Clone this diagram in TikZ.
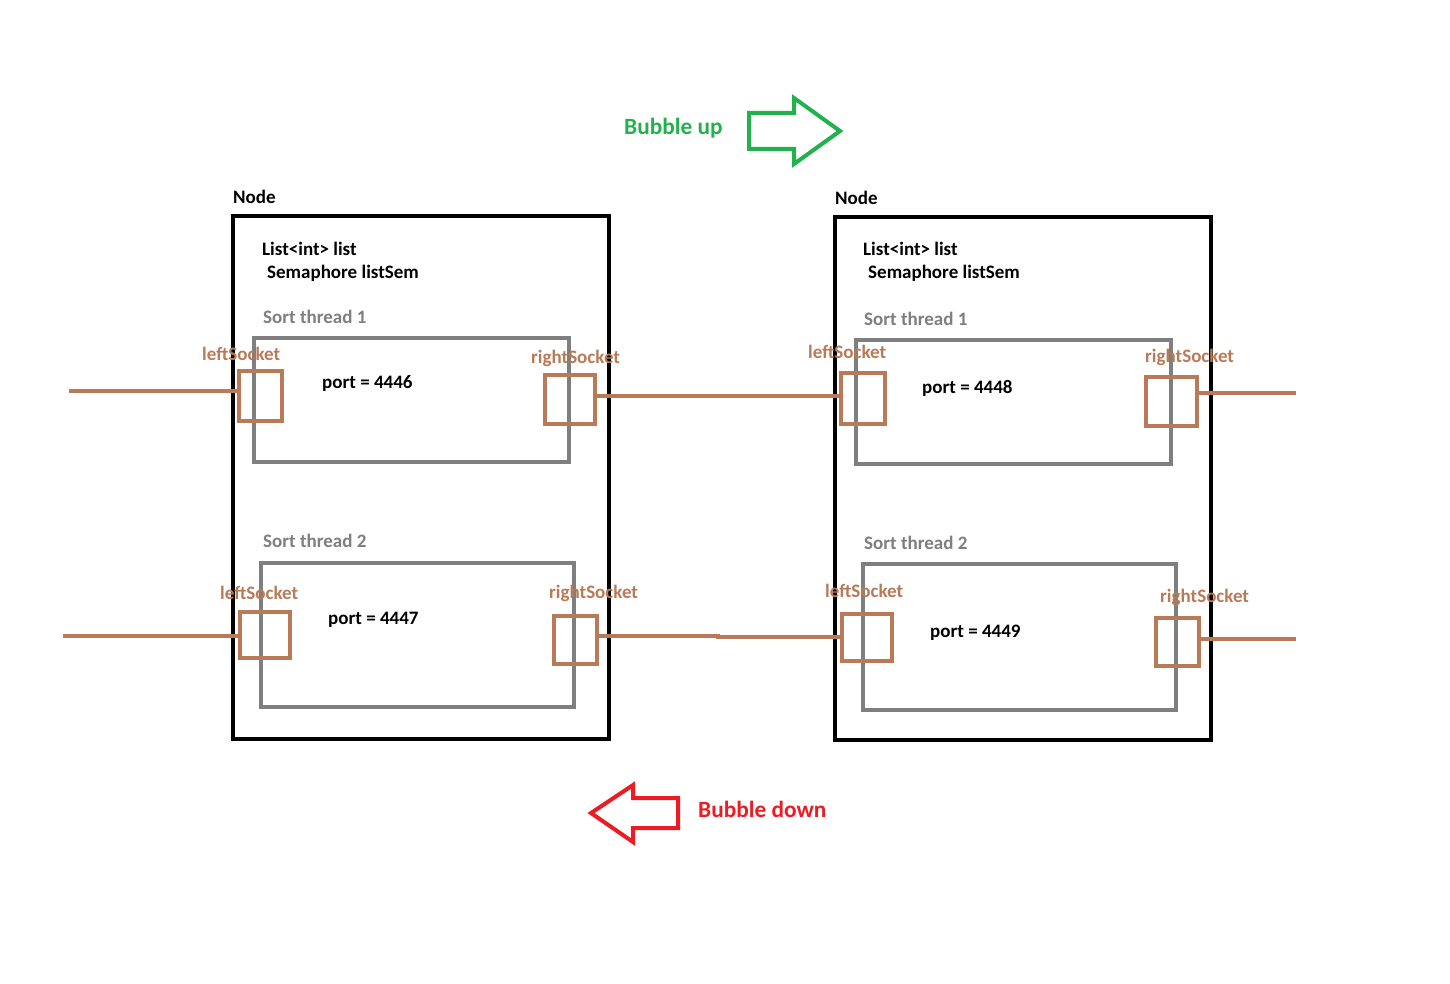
\documentclass[tikz,border=0pt]{standalone}
\usepackage{fontspec}
\setmainfont{Carlito}
\definecolor{thgray}{HTML}{7F7F7F}
\definecolor{sockbrown}{HTML}{B97A57}
\definecolor{upgreen}{HTML}{22B14C}
\definecolor{downred}{HTML}{ED1C24}
\begin{document}
\begin{tikzpicture}[x=1pt,y=-1pt,
  txt/.style={anchor=base west, inner sep=0pt, font=\fontsize{19}{22}\selectfont\bfseries},
  bigtxt/.style={anchor=base west, inner sep=0pt, font=\fontsize{23.3}{26}\selectfont\bfseries},
  lbl/.style={txt, text=black},
  graytxt/.style={txt, text=thgray},
  socktxt/.style={txt, text=sockbrown},
  nodebox/.style={draw=black, line width=4.5pt},
  threadbox/.style={draw=thgray, line width=4.5pt},
  sock/.style={draw=sockbrown, line width=4.5pt, inner sep=0pt},
  wire/.style={draw=sockbrown, line width=3.8pt},
  bigarrow/.style={line width=4pt, line join=miter},
]
\useasboundingbox[fill=white] (0,0) rectangle (1450,984);

% ---------- left Node ----------
\draw[nodebox] (233,216) rectangle (609,739);
\node[lbl] (nodeL) at (233,204) {Node};
\node[lbl] (listL) at (262,255) {List<int> list};
\node[lbl] (semL) at (267,278) {Semaphore listSem};
\node[graytxt] (st1L) at (263,323) {Sort thread 1};
\draw[threadbox] (254,338) rectangle (569,462);
\node[lbl] (p4446) at (322,388) {port = 4446};
\node[graytxt] (st2L) at (263,547) {Sort thread 2};
\draw[threadbox] (261,563) rectangle (574,707);
\node[lbl] (p4447) at (328,624) {port = 4447};

\node[sock, minimum width=43pt, minimum height=50pt] (ls1) at (260.5,396) {};
\node[sock, minimum width=50pt, minimum height=49pt] (rs1) at (570,399.5) {};
\node[sock, minimum width=50pt, minimum height=46pt] (ls2) at (265,635) {};
\node[sock, minimum width=43pt, minimum height=48pt] (rs2) at (575.5,640) {};
\node[socktxt] (ls1t) at (202,360) {leftSocket};
\node[socktxt] (rs1t) at (531,363) {rightSocket};
\node[socktxt] (ls2t) at (220,599) {leftSocket};
\node[socktxt] (rs2t) at (549,598) {rightSocket};

% ---------- right Node ----------
\draw[nodebox] (835,217) rectangle (1211,740);
\node[lbl] (nodeR) at (835,205) {Node};
\node[lbl] (listR) at (863,256) {List<int> list};
\node[lbl] (semR) at (868,279) {Semaphore listSem};
\node[graytxt] (st1R) at (864,325) {Sort thread 1};
\draw[threadbox] (856,340) rectangle (1171,464);
\node[lbl] (p4448) at (922,393) {port = 4448};
\node[graytxt] (st2R) at (864,549) {Sort thread 2};
\draw[threadbox] (863,564) rectangle (1176,710);
\node[lbl] (p4449) at (930,637) {port = 4449};

\node[sock, minimum width=44pt, minimum height=51pt] (ls3) at (863,398.5) {};
\node[sock, minimum width=51pt, minimum height=49pt] (rs3) at (1171.5,401.5) {};
\node[sock, minimum width=50pt, minimum height=47pt] (ls4) at (867,637.5) {};
\node[sock, minimum width=43pt, minimum height=48pt] (rs4) at (1177.5,642) {};
\node[socktxt] (ls3t) at (808,358) {leftSocket};
\node[socktxt] (rs3t) at (1145,362) {rightSocket};
\node[socktxt] (ls4t) at (825,597) {leftSocket};
\node[socktxt] (rs4t) at (1160,602) {rightSocket};

% ---------- wires ----------
\coordinate (e1) at (69,391);
\coordinate (e2) at (63,636);
\coordinate (e3) at (1296,393);
\coordinate (e4) at (1296,639);
\coordinate (j1) at (718,636);
\draw[wire] (e1) -- (e1 -| ls1.west);
\draw[wire] (e2) -- (e2 -| ls2.west);
\draw[wire] (rs1.east |- 0,396) -- (ls3.west |- 0,396);
\draw[wire] (j1 -| rs2.east) -- (j1) -- ++(0,1) -- (ls4.west |- 0,637);
\draw[wire] (e3 -| rs3.east) -- (e3);
\draw[wire] (e4 -| rs4.east) -- (e4);

% ---------- bubble arrows ----------
\node[bigtxt, text=upgreen] (bup) at (624,135) {Bubble up};
\draw[bigarrow, draw=upgreen] (749,113) -- (794,113) -- (794,98) -- (840,131)
  -- (794,164) -- (794,149) -- (749,149) -- cycle;
\node[bigtxt, text=downred] (bdown) at (698,817) {Bubble down};
\draw[bigarrow, draw=downred] (678,798) -- (633,798) -- (633,785) -- (591,813)
  -- (633,842) -- (633,828) -- (678,828) -- cycle;
\end{tikzpicture}
\end{document}
